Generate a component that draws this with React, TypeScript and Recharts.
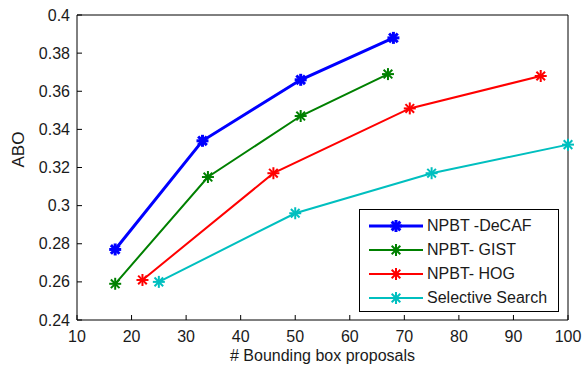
import React from "react";
import { Legend, Line, LineChart, XAxis, YAxis } from "recharts";

const xTicks = [10, 20, 30, 40, 50, 60, 70, 80, 90, 100];
const yTicks = [0.24, 0.26, 0.28, 0.3, 0.32, 0.34, 0.36, 0.38, 0.4];

const decafX = [17, 33, 51, 68];
const decafY = [0.277, 0.334, 0.366, 0.388];
const gistX = [17, 34, 51, 67];
const gistY = [0.259, 0.315, 0.347, 0.369];
const hogX = [22, 46, 71, 95];
const hogY = [0.261, 0.317, 0.351, 0.368];
const ssX = [25, 50, 75, 100];
const ssY = [0.26, 0.296, 0.317, 0.332];

const toPoints = (xs: number[], ys: number[]) => xs.map((x, i) => ({ x, y: ys[i] }));

const SERIES = [
  { name: "NPBT -DeCAF", color: "#0000ff", width: 3, data: toPoints(decafX, decafY) },
  { name: "NPBT- GIST", color: "#008000", width: 2, data: toPoints(gistX, gistY) },
  { name: "NPBT- HOG", color: "#ff0000", width: 2, data: toPoints(hogX, hogY) },
  { name: "Selective Search", color: "#00bfbf", width: 2, data: toPoints(ssX, ssY) },
];

const FONT = "'Liberation Sans', Arial, sans-serif";
const TEXT = "#1a1a1a";
const TICK_LEN = 5;

const fmtY = (v: number) => String(Number(v.toFixed(2)));

function Star({ cx, cy, color, width, r = 6 }: any) {
  if (cx == null || cy == null) return null;
  const d = r * 0.72;
  return (
    <g stroke={color} strokeWidth={width}>
      <line x1={cx - r} y1={cy} x2={cx + r} y2={cy} />
      <line x1={cx} y1={cy - r} x2={cx} y2={cy + r} />
      <line x1={cx - d} y1={cy - d} x2={cx + d} y2={cy + d} />
      <line x1={cx - d} y1={cy + d} x2={cx + d} y2={cy - d} />
    </g>
  );
}

function BottomTick({ x, y, payload }: any) {
  return (
    <g>
      <line x1={x} y1={y} x2={x} y2={y - TICK_LEN} stroke="#000" />
      <text x={x} y={y + 16} textAnchor="middle" dominantBaseline="central" fontSize={16} fill={TEXT} fontFamily={FONT}>
        {payload.value}
      </text>
    </g>
  );
}

function LeftTick({ x, y, payload }: any) {
  return (
    <g>
      <line x1={x} y1={y} x2={x + TICK_LEN} y2={y} stroke="#000" />
      <text x={x - 7} y={y} textAnchor="end" dominantBaseline="central" fontSize={16} fill={TEXT} fontFamily={FONT}>
        {fmtY(payload.value)}
      </text>
    </g>
  );
}

function TopTick({ x, y }: any) {
  return <line x1={x} y1={y} x2={x} y2={y + TICK_LEN} stroke="#000" />;
}

function RightTick({ x, y }: any) {
  return <line x1={x} y1={y} x2={x - TICK_LEN} y2={y} stroke="#000" />;
}

function LegendBox() {
  return (
    <div
      style={{
        width: 198,
        height: 97,
        border: "1px solid #000",
        background: "#fff",
        fontFamily: FONT,
        fontSize: 16,
        color: TEXT,
        paddingTop: 4,
        boxSizing: "content-box",
      }}
    >
      {SERIES.map((s) => (
        <div key={s.name} style={{ display: "flex", alignItems: "center", height: 24 }}>
          <svg width={66} height={20} style={{ flex: "none" }}>
            <line x1={9} y1={10} x2={63} y2={10} stroke={s.color} strokeWidth={s.width} />
            <Star cx={36} cy={10} color={s.color} width={s.width} />
          </svg>
          <span style={{ marginLeft: 1, whiteSpace: "nowrap" }}>{s.name}</span>
        </div>
      ))}
    </div>
  );
}

export default function App() {
  return (
    <div style={{ position: "absolute", left: 0, top: 0, width: 586, height: 366, background: "#fff" }}>
      <LineChart width={586} height={366} margin={{ top: 0, right: 0, bottom: 0, left: 0 }}>
        <XAxis
          dataKey="x"
          type="number"
          domain={[10, 100]}
          ticks={xTicks}
          interval={0}
          height={46}
          tickSize={0}
          tickMargin={0}
          tick={<BottomTick />}
          axisLine={{ stroke: "#000" }}
          allowDuplicatedCategory={false}
          label={{ value: "# Bounding box proposals", position: "insideBottom", offset: 5, fontSize: 16, fill: TEXT, fontFamily: FONT }}
        />
        <XAxis
          xAxisId="top"
          orientation="top"
          dataKey="x"
          type="number"
          domain={[10, 100]}
          ticks={xTicks}
          interval={0}
          height={15}
          tickSize={0}
          tickMargin={0}
          tick={<TopTick />}
          axisLine={{ stroke: "#000" }}
        />
        <YAxis
          type="number"
          domain={[0.24, 0.4]}
          ticks={yTicks}
          interval={0}
          width={77}
          tickSize={0}
          tickMargin={0}
          tick={<LeftTick />}
          axisLine={{ stroke: "#000" }}
          label={{ value: "ABO", angle: -90, position: "insideLeft", offset: 18, fontSize: 17, fill: TEXT, fontFamily: FONT }}
        />
        <YAxis
          yAxisId="right"
          orientation="right"
          type="number"
          domain={[0.24, 0.4]}
          ticks={yTicks}
          interval={0}
          width={18}
          tickSize={0}
          tickMargin={0}
          tick={<RightTick />}
          axisLine={{ stroke: "#000" }}
        />
        {SERIES.map((s) => (
          <Line
            key={s.name}
            name={s.name}
            data={s.data}
            dataKey="y"
            stroke={s.color}
            strokeWidth={s.width}
            isAnimationActive={false}
            dot={(p: any) => <Star key={`${s.name}-${p.index}`} cx={p.cx} cy={p.cy} color={s.color} width={s.width} />}
            activeDot={false}
          />
        ))}
        <Legend
          layout="vertical"
          align="center"
          verticalAlign="middle"
          content={<LegendBox />}
          wrapperStyle={{ left: 359, top: 209, width: 200, height: 103 }}
        />
      </LineChart>
    </div>
  );
}
